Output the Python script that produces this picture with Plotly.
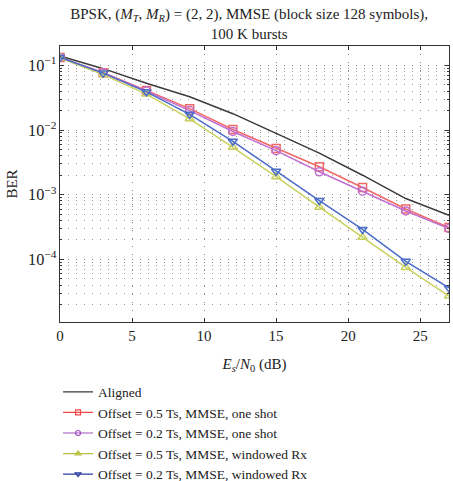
import plotly.graph_objects as go

snr = [0, 3, 6, 9, 12, 15, 18, 21, 24, 27]
aligned = [0.14, 0.089, 0.053, 0.0327, 0.0179, 0.009, 0.0044, 0.002, 0.00087, 0.00048]
off05_one = [0.133, 0.077, 0.041, 0.0214, 0.0102, 0.0052, 0.0027, 0.00129, 0.0006, 0.00031]
off02_one = [0.133, 0.077, 0.040, 0.0200, 0.0095, 0.0048, 0.00226, 0.00113, 0.00056, 0.0003]
off05_win = [0.13, 0.072, 0.036, 0.0149, 0.0054, 0.0019, 0.00064, 0.00022, 7.5e-5, 2.7e-5]
off02_win = [0.133, 0.076, 0.039, 0.0175, 0.0067, 0.0023, 0.00081, 0.00029, 9.3e-5, 3.6e-5]

names = ["Aligned",
         "Offset = 0.5 Ts, MMSE, one shot",
         "Offset = 0.2 Ts, MMSE, one shot",
         "Offset = 0.5 Ts, MMSE, windowed Rx",
         "Offset = 0.2 Ts, MMSE, windowed Rx"]
series = [aligned, off05_one, off02_one, off05_win, off02_win]
colors = ["#3a3a3a", "#f06868", "#c070d0", "#c8d060", "#4a6cc8"]
legend_colors = ["#3a3a3a", "#f04848", "#a050c0", "#b8c040", "#2a3ca0"]
symbols = [None, "square-open", "circle-open", "triangle-up-open", "triangle-down-open"]

font_family = "Liberation Serif, Times New Roman, serif"
grid_dash = "1px,7px"

fig = go.Figure()
for name, ys, col, sym in zip(names, series, colors, symbols):
    if sym is None:
        fig.add_trace(go.Scatter(x=snr, y=ys, name=name, mode="lines", showlegend=False,
                                 line=dict(color=col, width=1.5)))
    else:
        fig.add_trace(go.Scatter(x=snr, y=ys, name=name, mode="lines+markers", showlegend=False,
                                 line=dict(color=col, width=1.5),
                                 marker=dict(symbol=sym, size=8, color=col,
                                             line=dict(width=1.5, color=col))))
# legend entries with smaller markers
for name, col, sym in zip(names, legend_colors, symbols):
    if sym is None:
        fig.add_trace(go.Scatter(x=[None], y=[None], name=name, mode="lines",
                                 line=dict(color=col, width=1.2)))
    else:
        fig.add_trace(go.Scatter(x=[None], y=[None], name=name, mode="lines+markers",
                                 line=dict(color=col, width=1.2),
                                 marker=dict(symbol=sym, size=5, color=col,
                                             line=dict(width=1.2, color=col))))

fig.update_layout(
    width=453, height=481,
    margin=dict(l=60, r=4, t=46, b=159, autoexpand=False),
    paper_bgcolor="white", plot_bgcolor="white",
    font=dict(family=font_family, size=15, color="#222"),
    title=dict(text="BPSK, (<i>M<sub>T</sub></i>, <i>M<sub>R</sub></i>) = (2, 2), MMSE (block size 128 symbols),<br>100 K bursts",
               x=0.55, xanchor="center", xref="container",
               y=0.96, yanchor="top", yref="container",
               font=dict(size=15, family=font_family)),
    showlegend=True,
    legend=dict(x=-0.005, y=0.217, xanchor="left", yanchor="top", yref="container",
                bgcolor="rgba(0,0,0,0)", font=dict(size=13.5, family=font_family),
                itemwidth=30, tracegroupgap=0),
)

fig.update_xaxes(
    range=[0, 27], tickmode="array", tickvals=[0, 5, 10, 15, 20, 25],
    ticks="inside", ticklen=4, tickcolor="#333",
    showline=True, linecolor="#333", linewidth=1, mirror="ticks",
    showgrid=True, gridcolor="#888", griddash=grid_dash, gridwidth=1,
    zeroline=False,
    title=dict(text="<i>E<sub>s</sub></i>/<i>N</i><sub>0</sub> (dB)", standoff=15,
               font=dict(size=15, family=font_family)),
    tickfont=dict(size=15, family=font_family),
)
fig.update_yaxes(
    type="log", range=[-4.97, -0.7], dtick=1, exponentformat="power",
    ticks="inside", ticklen=4, tickcolor="#333",
    showline=True, linecolor="#333", linewidth=1, mirror="ticks",
    showgrid=True, gridcolor="#888", griddash=grid_dash, gridwidth=1,
    minor=dict(dtick="D1", showgrid=True, gridcolor="#999", griddash=grid_dash,
               ticks="inside", ticklen=2, tickcolor="#333"),
    zeroline=False,
    title=dict(text="BER", standoff=6, font=dict(size=15, family=font_family)),
    tickfont=dict(size=13, family=font_family),
)

fig.write_html("out.html")
